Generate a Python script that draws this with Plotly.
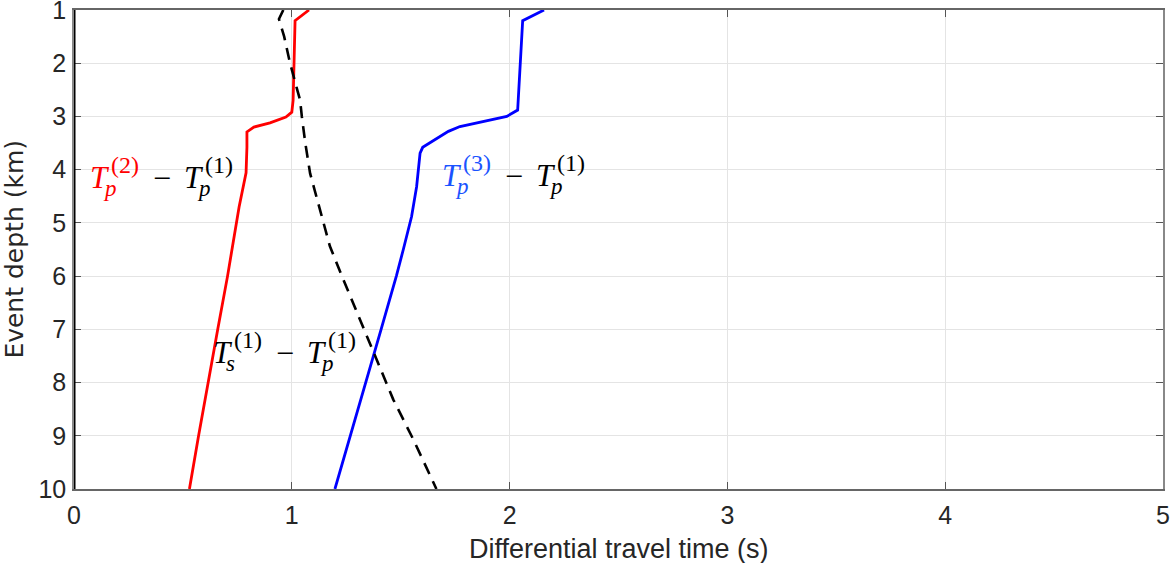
import plotly.graph_objects as go

# ---- data ----
depth_red = [1.0, 1.2, 2.7, 2.92, 3.01, 3.12, 3.2, 3.29, 3.58, 4.06, 4.7, 5.5, 6.0, 7.0, 8.0, 9.0, 10.0]
tp2_tp1 = [1.079, 1.015, 1.006, 1.0, 0.973, 0.90, 0.826, 0.794, 0.794, 0.79, 0.758, 0.725, 0.705, 0.66, 0.615, 0.572, 0.53]

depth_blue = [1.0, 1.2, 2.88, 3.0, 3.19, 3.28, 3.58, 3.69, 4.32, 4.88, 5.5, 6.0, 7.0, 8.0, 9.0, 10.0]
tp3_tp1 = [2.158, 2.06, 2.037, 1.987, 1.772, 1.719, 1.601, 1.589, 1.573, 1.55, 1.512, 1.48, 1.41, 1.34, 1.27, 1.198]

depth_black = [1.0, 1.17, 1.5, 2.0, 2.5, 2.69, 3.0, 3.31, 3.5, 4.07, 4.69, 5.44, 6.0, 6.44, 7.0, 7.44, 8.0, 8.32, 9.07, 9.5, 10.0]
ts1_tp1 = [0.961, 0.941, 0.965, 0.992, 1.025, 1.038, 1.046, 1.056, 1.062, 1.084, 1.126, 1.175, 1.23, 1.275, 1.33, 1.374, 1.433, 1.466, 1.558, 1.607, 1.664]

x_ticks = [0, 1, 2, 3, 4, 5]
y_ticks = [1, 2, 3, 4, 5, 6, 7, 8, 9, 10]
x_title = "Differential travel time (s)"
y_title = "Event depth (km)"

RED = "#ff0000"
BLUE = "#0000ff"
LABEL_BLUE = "#1a53ff"
BLACK = "#000000"
TEXT = "#262626"

fig = go.Figure()
fig.add_trace(go.Scatter(x=tp2_tp1, y=depth_red, mode="lines",
                         line=dict(color=RED, width=2.8), showlegend=False))
fig.add_trace(go.Scatter(x=tp3_tp1, y=depth_blue, mode="lines",
                         line=dict(color=BLUE, width=2.8), showlegend=False))
fig.add_trace(go.Scatter(x=ts1_tp1, y=depth_black, mode="lines",
                         line=dict(color=BLACK, width=2.6, dash="12px,8px"), showlegend=False))

SERIF = "Liberation Serif"
annotations = []


def piece(x, y, text, size, color, dx, dy):
    annotations.append(dict(x=x, y=y, xref="x", yref="y", text=text, showarrow=False,
                            xanchor="left", yanchor="middle", xshift=dx, yshift=dy,
                            borderpad=0,
                            font=dict(family=SERIF, size=size, color=color)))


def term(x, y, base_dx, sub, sup, col_main):
    piece(x, y, "<i>T</i>", 31, col_main, base_dx, 0)
    piece(x, y, "<i>%s</i>" % sub, 23, col_main, base_dx + 13, -11)
    piece(x, y, "(%s)" % sup, 24, col_main, base_dx + 21, 13)


def label(x, y, sub1, sup1, col1):
    term(x, y, 0, sub1, sup1, col1)
    piece(x, y, "\u2212", 32, BLACK, 63, 0)
    term(x, y, 94, "p", "1", BLACK)


label(0.07, 4.15, "p", "2", RED)
label(1.685, 4.11, "p", "3", LABEL_BLUE)
label(0.632, 7.44, "s", "1", BLACK)

annotations.append(dict(text=x_title, xref="paper", yref="paper", x=0.5, y=-0.125,
                        xanchor="center", yanchor="middle", showarrow=False,
                        font=dict(size=27, color=TEXT)))
annotations.append(dict(text=y_title, xref="paper", yref="paper", x=-0.055, y=0.5,
                        xanchor="center", yanchor="middle", showarrow=False, textangle=-90,
                        font=dict(family="DejaVu Sans", size=25, color=TEXT)))

axis_common = dict(ticks="inside", ticklen=7, tickwidth=1.2, tickcolor="#555555",
                   showgrid=True, gridcolor="#e4e4e4", gridwidth=1, showline=True,
                   linewidth=1.5, mirror="ticks", zeroline=False, automargin=False,
                   ticklabeloverflow="allow", tickfont=dict(size=25, color=TEXT))

fig.update_layout(
    width=1171, height=563,
    margin=dict(l=74, r=8, t=10, b=74, autoexpand=False),
    paper_bgcolor="white", plot_bgcolor="white",
    font=dict(family="Liberation Sans, Arial, sans-serif", color=TEXT),
    annotations=annotations,
    xaxis=dict(range=[0, 5], tickvals=x_ticks, linecolor="#666666",
               ticklabelstandoff=3, **axis_common),
    yaxis=dict(range=[10, 1], tickvals=y_ticks, linecolor="#888888",
               ticklabelstandoff=1, **axis_common),
    shapes=[dict(type="line", xref="x", yref="paper", x0=0, x1=0, y0=0, y1=1,
                 line=dict(color="black", width=3))],
)

fig.write_html("out.html", config={"displayModeBar": False},
               post_script="document.body.style.margin='0';document.body.style.overflow='hidden';")
